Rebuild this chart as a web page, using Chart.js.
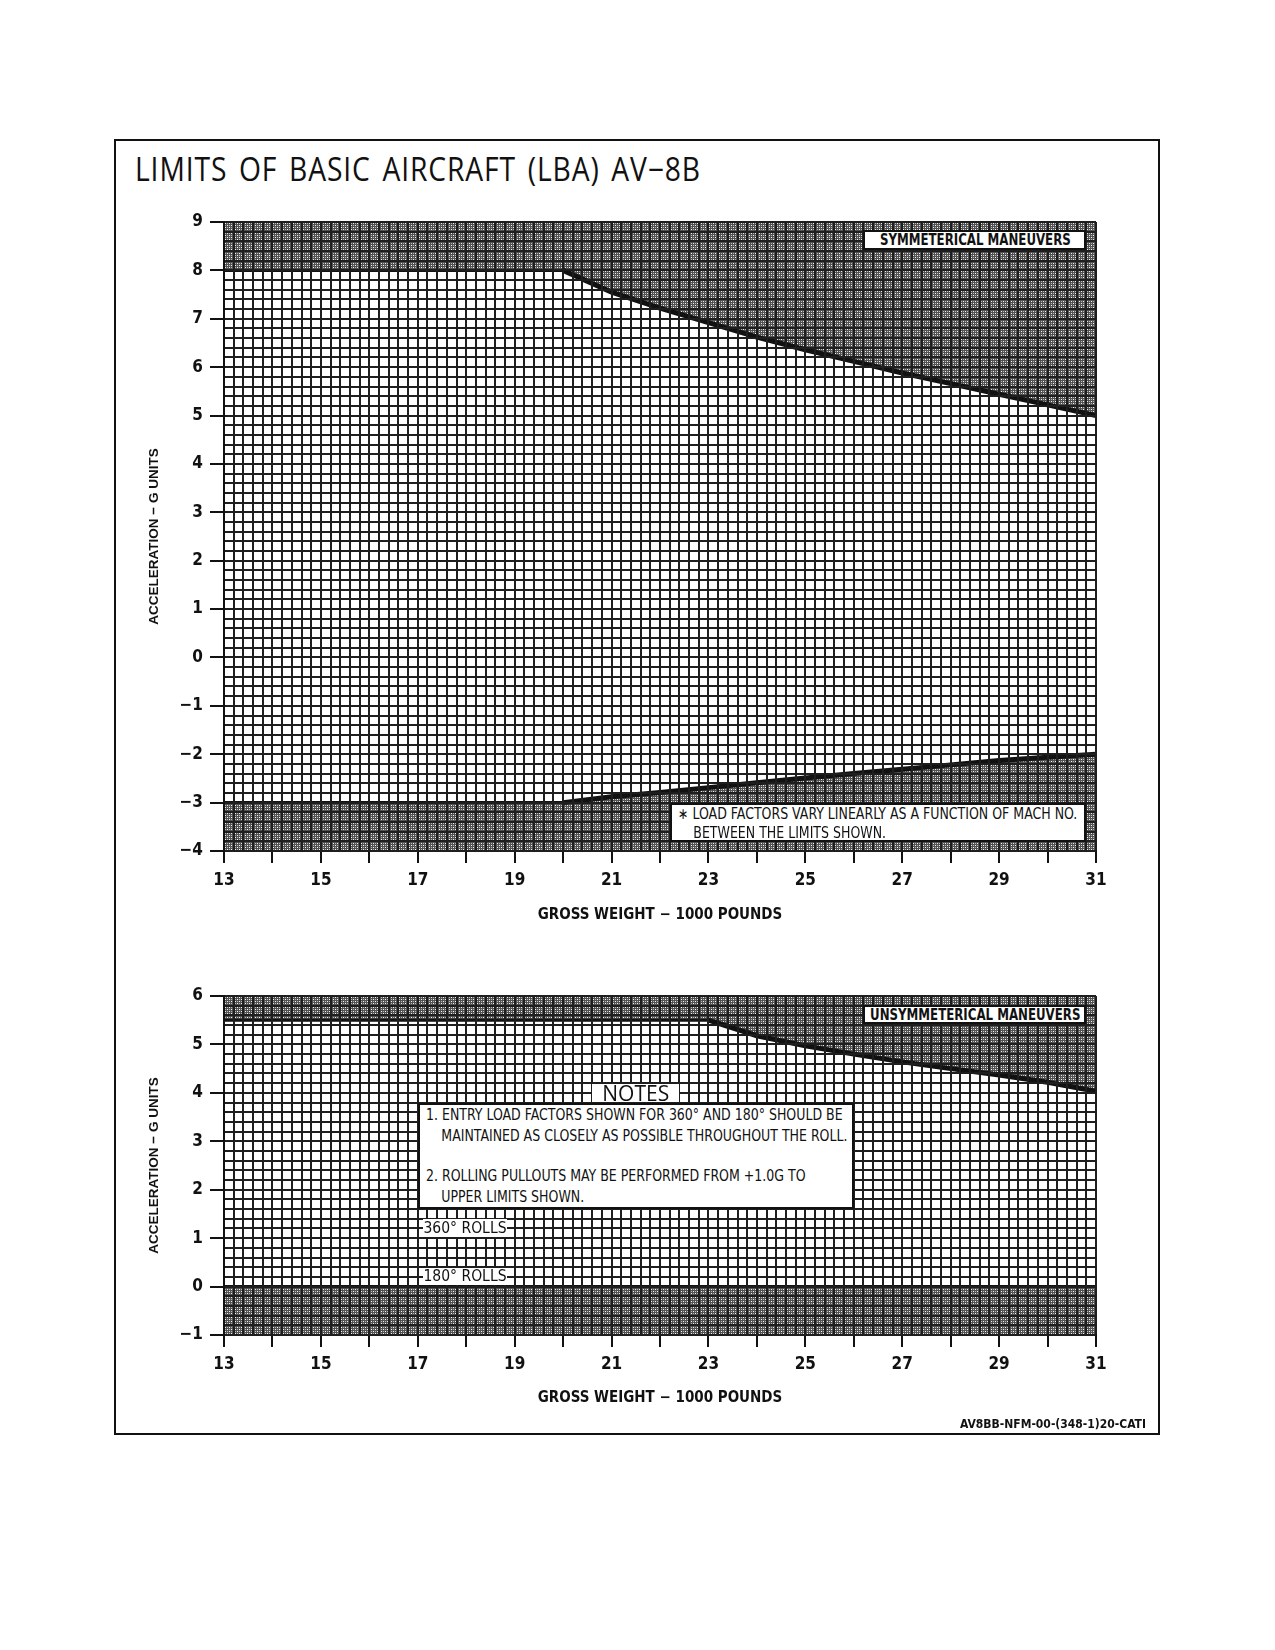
<!DOCTYPE html>
<html>
<head>
<meta charset="utf-8">
<script src="https://cdn.jsdelivr.net/npm/chart.js@4.4.1/dist/chart.umd.min.js"></script>
<style>
  html, body { margin: 0; padding: 0; background: #fff; }
  body { width: 1275px; height: 1650px; position: relative; color: #111;
         font-family: "Liberation Sans Narrow", "DejaVu Sans Condensed", "Liberation Sans", sans-serif; }
  #frame { position: absolute; left: 114px; top: 139px; width: 1046px; height: 1296px;
           border: 2px solid #111; box-sizing: border-box; }
  #title { position: absolute; left: 135px; top: 153px; font: 32px "Open Sans", sans-serif;
           line-height: 1; letter-spacing: 1px; word-spacing: 4px; white-space: nowrap; transform-origin: 0 0; }
  .wrap { position: absolute; left: 114px; width: 1046px; }
  #wrapTop { top: 200px; height: 736px; }
  #wrapBot { top: 960px; height: 459px; }
  .wrap canvas { position: absolute; left: 0; top: 0; }
  .note { position: absolute; background: #fff; box-sizing: border-box; white-space: nowrap; }
  .boxed { border: 2px solid #111; }
  .head { display: flex; align-items: center; justify-content: center; font-weight: bold; font-size: 16px; }
  .head span { display: inline-block; transform: scaleX(0.82); }
  .tag { display: flex; align-items: center; justify-content: center; font-size: 15.5px; }
  .big { font: 21px "Open Sans", sans-serif; }
  .lines { font-size: 15.5px; padding: 0 0 0 6px; }
  .lines div { transform: scaleX(0.9); transform-origin: 0 50%; }
  .lines .in { padding-left: 17px; }
  .l19 { line-height: 19px; }
  .l21 { line-height: 21px; }
  .lines .gap { height: 19px; }
  #code { position: absolute; right: 129px; top: 1417px; font-size: 12px; font-weight: bold; }
</style>
</head>
<body>
<div id="frame"></div>
<div id="title">LIMITS OF BASIC AIRCRAFT (LBA) AV−8B</div>

<div class="wrap" id="wrapTop">
  <canvas id="symChart" width="1046" height="736"></canvas>
  <div class="note boxed head" data-x0="26.2" data-x1="30.8" data-y0="8.83" data-y1="8.43"><span>SYMMETERICAL MANEUVERS</span></div>
  <div class="note boxed lines l19" data-x0="22.2" data-x1="30.8" data-y0="-3.0" data-y1="-3.81">
    <div>∗ LOAD FACTORS VARY LINEARLY AS A FUNCTION OF MACH NO.</div>
    <div class="in">BETWEEN THE LIMITS SHOWN.</div>
  </div>
</div>

<div class="wrap" id="wrapBot">
  <canvas id="unsymChart" width="1046" height="459"></canvas>
  <div class="note boxed head" data-x0="26.2" data-x1="30.8" data-y0="5.81" data-y1="5.42"><span>UNSYMMETERICAL MANEUVERS</span></div>
  <div class="note boxed lines l21" data-x0="17" data-x1="26" data-y0="3.79" data-y1="1.6">
    <div>1. ENTRY LOAD FACTORS SHOWN FOR 360° AND 180° SHOULD BE</div>
    <div class="in">MAINTAINED AS CLOSELY AS POSSIBLE THROUGHOUT THE ROLL.</div>
    <div class="gap"></div>
    <div>2. ROLLING PULLOUTS MAY BE PERFORMED FROM +1.0G TO</div>
    <div class="in">UPPER LIMITS SHOWN.</div>
  </div>
  <div class="note tag big" data-x0="20.6" data-x1="22.4" data-y0="4.19" data-y1="3.81">NOTES</div>
  <div class="note tag" data-x0="17.1" data-x1="18.85" data-y0="1.39" data-y1="1.03">360° ROLLS</div>
  <div class="note tag" data-x0="17.1" data-x1="18.85" data-y0="0.39" data-y1="0.03">180° ROLLS</div>
</div>

<div id="code">AV8BB-NFM-00-(348-1)20-CATI</div>

<script>
// symmetrical maneuvers (gross weight in 1000 lb, load factor in g)
const symWeights = [13, 20, 21, 22, 23, 24, 25, 26, 27, 28, 29, 30, 31];
const symUpper = [8, 8, 7.55, 7.22, 6.92, 6.62, 6.36, 6.12, 5.88, 5.66, 5.44, 5.22, 5.0];
const symLower = [-3, -3, -2.88, -2.79, -2.69, -2.59, -2.49, -2.4, -2.31, -2.22, -2.13, -2.06, -2.0];

// unsymmetrical maneuvers
const unsymWeights = [13, 23, 24, 25, 26, 27, 28, 29, 30, 31];
const unsymUpper = [5.5, 5.5, 5.18, 4.97, 4.8, 4.64, 4.5, 4.37, 4.22, 4.03];
const rollWeights = [13, 31];
const rollLower = [0, 0];

const weightTicks = [13, 15, 17, 19, 21, 23, 25, 27, 29, 31];

const INK = '#111';
const GRID = '#1e1e1e';
const NARROW = '"Liberation Sans Narrow", "DejaVu Sans Condensed", "Liberation Sans", sans-serif';

Chart.defaults.font.family = NARROW;
Chart.defaults.color = INK;

function makePattern() {
  const c = document.createElement('canvas');
  c.width = 4; c.height = 4;
  const g = c.getContext('2d');
  g.fillStyle = '#525252';
  g.fillRect(0, 0, 4, 4);
  g.fillStyle = '#f4f4f4';
  g.fillRect(1, 1, 1, 1);
  g.fillRect(3, 3, 1, 1);
  g.fillStyle = '#b8b8b8';
  g.fillRect(3, 1, 1, 1);
  g.fillRect(1, 3, 1, 1);
  return g.createPattern(c, 'repeat');
}
const shade = makePattern();

function isWhole(v) { return Math.abs(v - Math.round(v)) < 1e-6; }
function fmt(v) {
  const n = Math.round(v);
  return n < 0 ? '\u2212' + Math.abs(n) : String(n);
}
function toPoints(xs, ys) {
  return xs.map(function (x, i) { return { x: x, y: ys[i] }; });
}

function limitLine(xs, ys, fill) {
  return {
    data: toPoints(xs, ys),
    fill: fill,
    backgroundColor: shade,
    borderColor: INK,
    borderWidth: 4,
    segment: {
      borderWidth: function (ctx) { return ctx.p0.parsed.y === ctx.p1.parsed.y ? 3 : 5; }
    },
    pointRadius: 0,
    tension: 0
  };
}

function weightAxis(height) {
  return {
    type: 'linear', min: 13, max: 31,
    grid: {
      z: 1, color: GRID, lineWidth: 2, tickLength: 12, tickWidth: 2,
      tickColor: function (ctx) { return ctx.tick && isWhole(ctx.tick.value) ? INK : 'rgba(0,0,0,0)'; }
    },
    border: { z: 1, color: INK, width: 2 },
    ticks: {
      stepSize: 0.2, autoSkip: false, maxRotation: 0, minRotation: 0, padding: 7,
      font: { size: 17, weight: 'bold' },
      callback: function (v) {
        return weightTicks.some(function (w) { return Math.abs(w - v) < 1e-6; }) ? fmt(v) : '';
      }
    },
    title: {
      display: true, text: 'GROSS WEIGHT \u2212 1000 POUNDS',
      font: { size: 15, weight: 'bold' }, padding: { top: 0, bottom: 12 }
    },
    afterFit: function (s) { s.height = height; s.paddingLeft = 0; s.paddingRight = 0; }
  };
}

function gAxis(min, max) {
  return {
    type: 'linear', min: min, max: max,
    grid: {
      z: 1, color: GRID, lineWidth: 2, tickLength: 14, tickWidth: 2,
      tickColor: function (ctx) { return ctx.tick && isWhole(ctx.tick.value) ? INK : 'rgba(0,0,0,0)'; }
    },
    border: { z: 1, color: INK, width: 2 },
    ticks: {
      stepSize: 0.2, autoSkip: false, padding: 7,
      font: { size: 17, weight: 'bold' },
      callback: function (v) { return isWhole(v) ? fmt(v) : ''; }
    },
    title: {
      display: true, text: 'ACCELERATION \u2212 G UNITS',
      font: { family: '"Liberation Sans", "DejaVu Sans", sans-serif', size: 13.5, weight: 'bold' },
      padding: { top: 32, bottom: 0 }
    },
    afterFit: function (s) { s.width = 110; s.paddingTop = 0; s.paddingBottom = 0; }
  };
}

// the grid sits over the shading; stroke the limit lines once more on top of it
const linesOnTop = {
  id: 'linesOnTop',
  afterDraw: function (chart) {
    const ctx = chart.ctx, area = chart.chartArea;
    ctx.save();
    ctx.beginPath();
    ctx.rect(area.left - 3, area.top - 3, area.width + 6, area.height + 6);
    ctx.clip();
    chart.data.datasets.forEach(function (ds, i) {
      chart.getDatasetMeta(i).dataset.draw(ctx, area);
    });
    ctx.restore();
  }
};

// move the html notes onto the chart using its own scales
const placeNotes = {
  id: 'placeNotes',
  afterRender: function (chart) {
    const xs = chart.scales.x, ys = chart.scales.y;
    chart.canvas.parentNode.querySelectorAll('.note').forEach(function (el) {
      const l = xs.getPixelForValue(+el.dataset.x0), r = xs.getPixelForValue(+el.dataset.x1);
      const t = ys.getPixelForValue(+el.dataset.y0), b = ys.getPixelForValue(+el.dataset.y1);
      el.style.left = l + 'px';
      el.style.top = t + 'px';
      el.style.width = (r - l) + 'px';
      el.style.height = (b - t) + 'px';
    });
  }
};

function makeChart(id, datasets, yMin, yMax, padTop, xHeight) {
  return new Chart(document.getElementById(id), {
    type: 'line',
    data: { datasets: datasets },
    options: {
      responsive: false,
      animation: false,
      devicePixelRatio: 1,
      layout: { padding: { top: padTop, right: 64, bottom: 0, left: 0 } },
      plugins: { legend: { display: false }, tooltip: { enabled: false } },
      scales: { x: weightAxis(xHeight), y: gAxis(yMin, yMax) }
    },
    plugins: [linesOnTop, placeNotes]
  });
}

makeChart('symChart', [
  limitLine(symWeights, symUpper, 'end'),
  limitLine(symWeights, symLower, 'start')
], -4, 9, 22, 85);

makeChart('unsymChart', [
  limitLine(unsymWeights, unsymUpper, 'end'),
  limitLine(rollWeights, rollLower, 'start')
], -1, 6, 36, 84);

// stretch the heading to the width it has in the print
const title = document.getElementById('title');
title.style.transform = 'scaleX(' + (566 / title.getBoundingClientRect().width) + ')';
</script>
</body>
</html>
